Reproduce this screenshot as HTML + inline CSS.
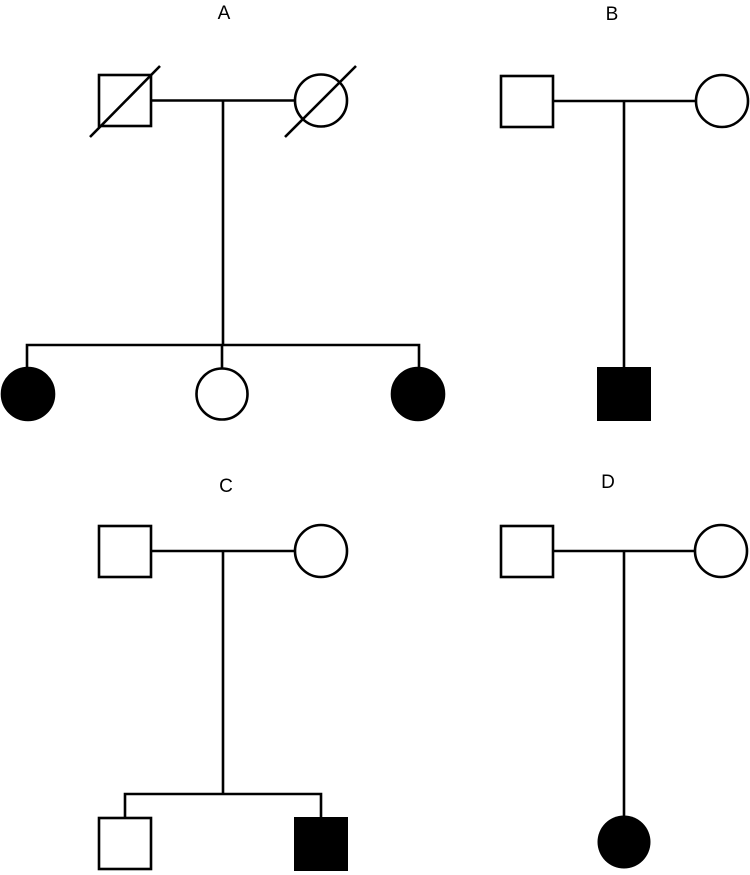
<!DOCTYPE html>
<html><head><meta charset="utf-8"><style>html,body{margin:0;padding:0;background:#fff}svg{display:block}</style></head>
<body>
<svg width="750" height="875" viewBox="0 0 750 875" xmlns="http://www.w3.org/2000/svg">
<g font-family="Liberation Sans, Arial, sans-serif" font-size="19" text-anchor="middle" fill="#000">
<text x="224" y="19">A</text>
<text x="612" y="20">B</text>
<text x="226" y="492">C</text>
<text x="608" y="488">D</text>
</g>
<g stroke="#000" stroke-width="2.6" fill="none">
<!-- A -->
<rect x="99" y="75" width="52" height="51" fill="#fff"/>
<line x1="90" y1="137" x2="160" y2="66"/>
<line x1="151" y1="100.5" x2="295" y2="100.5"/>
<circle cx="321" cy="100.5" r="26" fill="#fff"/>
<line x1="285" y1="137" x2="356" y2="66"/>
<line x1="223" y1="100" x2="223" y2="345"/>
<polyline points="27,368 27,345 419,345 419,368"/>
<line x1="222" y1="345" x2="222" y2="368"/>
<circle cx="28" cy="394" r="26" fill="#000"/>
<circle cx="222" cy="394" r="25.5" fill="#fff"/>
<circle cx="418" cy="394" r="26" fill="#000"/>
<!-- B -->
<rect x="501" y="76" width="52" height="51" fill="#fff"/>
<line x1="553" y1="101" x2="696" y2="101"/>
<circle cx="722" cy="101" r="26" fill="#fff"/>
<line x1="624" y1="101" x2="624" y2="368"/>
<rect x="597" y="367" width="54" height="54" fill="#000" stroke="none"/>
<!-- C -->
<rect x="99" y="526" width="52" height="51" fill="#fff"/>
<line x1="151" y1="551" x2="295" y2="551"/>
<circle cx="321" cy="551" r="26" fill="#fff"/>
<line x1="223" y1="551" x2="223" y2="794"/>
<polyline points="125,818 125,794 321,794 321,818"/>
<rect x="99" y="818" width="52" height="51" fill="#fff"/>
<rect x="294" y="817" width="54" height="54" fill="#000" stroke="none"/>
<!-- D -->
<rect x="501" y="526" width="52" height="51" fill="#fff"/>
<line x1="553" y1="551" x2="696" y2="551"/>
<circle cx="721" cy="551" r="26" fill="#fff"/>
<line x1="624" y1="551" x2="624" y2="818"/>
<circle cx="624" cy="842" r="26.5" fill="#000" stroke="none"/>
</g>
</svg>
</body></html>
